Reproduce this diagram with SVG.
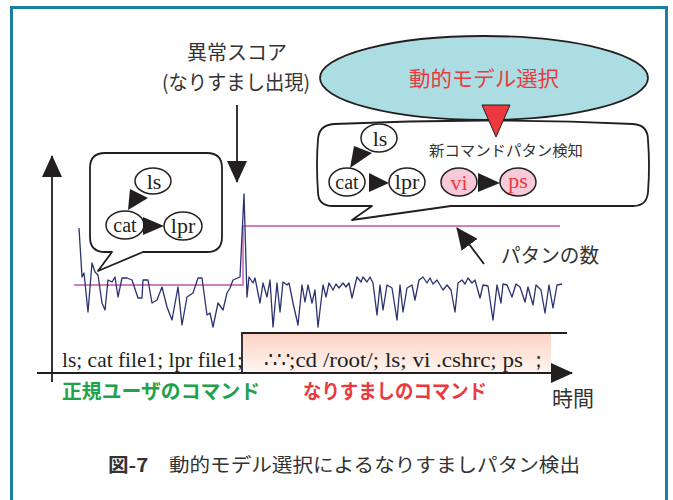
<svg xmlns="http://www.w3.org/2000/svg" width="673" height="500" viewBox="0 0 673 500">
<defs>
<marker id="ah" markerUnits="userSpaceOnUse" markerWidth="22" markerHeight="20" refX="21" refY="10" orient="auto" viewBox="0 0 22 20">
<path d="M0,0 L22,10 L0,20 Z" fill="#231f20"/>
</marker>
<linearGradient id="pinkgrad" x1="0" y1="0" x2="0" y2="1">
<stop offset="0" stop-color="#fbd2c3"/>
<stop offset="1" stop-color="#fff6f2"/>
</linearGradient>
<style>
.jp{font-family:"Noto Sans CJK JP","Noto Sans",sans-serif;}
.ser{font-family:"Liberation Serif","Times New Roman",serif;fill:#231f20;}
.node{fill:#ffffff;stroke:#231f20;stroke-width:1.5;}
.pnode{fill:#f7c9d9;stroke:#231f20;stroke-width:1.5;}
.bub{fill:#ffffff;stroke:#231f20;stroke-width:1.8;stroke-linejoin:round;}
.ln{stroke:#231f20;stroke-width:1.8;fill:none;}
.tri{fill:#231f20;}
</style>
</defs>
<rect id="frame" x="11.5" y="7.5" width="655" height="520" fill="#ffffff" stroke="#1a7fa0" stroke-width="3"/>

<g id="score-label">
<text class="jp" x="237" y="60" font-size="20" fill="#333" text-anchor="middle">異常スコア</text>
<text class="jp" x="236" y="90" font-size="20" fill="#333" text-anchor="middle" textLength="148" lengthAdjust="spacingAndGlyphs">(なりすまし出現)</text>
</g>

<g id="model-select">
<ellipse cx="484" cy="78" rx="164" ry="42" fill="#acdde2" stroke="#231f20" stroke-width="1.8"/>
<text class="jp" x="484" y="86" font-size="21" fill="#ea3a3f" text-anchor="middle" textLength="150" lengthAdjust="spacingAndGlyphs">動的モデル選択</text>
</g>

<g id="bubble-right">
<path class="bub" d="M334,124 Q484,117 633,124 Q648,125 648,140 Q650,166 648,192 Q647,206 633,206 L451,206 L352,220 L372,206 L333,206 Q318,206 318,192 Q316,165 318,139 Q319,125 334,124 Z"/>
<text class="jp" x="506" y="156" font-size="15" fill="#333" text-anchor="middle" textLength="154" lengthAdjust="spacingAndGlyphs">新コマンドパタン検知</text>
</g>
<g id="select-arrow">
<polygon points="482,105 510,105 496,137" fill="#ea3a3f" stroke="#231f20" stroke-width="1"/>
</g>
<g id="r-ls"><ellipse class="node" cx="379" cy="138" rx="18" ry="14"/><text class="ser" x="380" y="146" font-size="22" text-anchor="middle">ls</text></g>
<g id="r-cat"><ellipse class="node" cx="347" cy="182" rx="18" ry="14"/><text class="ser" x="347" y="189" font-size="20" text-anchor="middle">cat</text></g>
<g id="r-lpr"><ellipse class="node" cx="407" cy="182" rx="18" ry="14"/><text class="ser" x="407" y="189" font-size="22" text-anchor="middle">lpr</text></g>
<g id="r-vi"><ellipse class="pnode" cx="459" cy="182" rx="18" ry="14"/><text class="ser" x="459" y="190" font-size="22" text-anchor="middle" style="fill:#ea3a3f">vi</text></g>
<g id="r-ps"><ellipse class="pnode" cx="518" cy="182" rx="18" ry="14"/><text class="ser" x="518" y="188" font-size="22" text-anchor="middle" style="fill:#ea3a3f">ps</text></g>

<g id="bubble-left">
<path class="bub" d="M105,153 L207,153 Q222,153 222,168 L222,237 Q222,252 207,252 L143,252 L98,271 L112,252 L105,252 Q90,252 90,237 L90,168 Q90,153 105,153 Z"/>
</g>
<g id="l-ls"><ellipse class="node" cx="153" cy="181" rx="18" ry="13"/><text class="ser" x="154" y="189" font-size="22" text-anchor="middle">ls</text></g>
<g id="l-cat"><ellipse class="node" cx="125" cy="225" rx="19" ry="14"/><text class="ser" x="125" y="232" font-size="20" text-anchor="middle">cat</text></g>
<g id="l-lpr"><ellipse class="node" cx="183" cy="226" rx="19" ry="14"/><text class="ser" x="183" y="233" font-size="22" text-anchor="middle">lpr</text></g>

<g id="chart">
<polyline fill="none" stroke="#cf7fbe" stroke-width="1.8" points="74,285 243,285 243,226 560,226"/>
<polyline fill="none" stroke="#2b3270" stroke-width="1.3" stroke-linejoin="round" points="79,228 82,277 84,273 88,312 92,263 95,272 98,275 102,303 105,310 108,280 112,282 115,277 118,297 122,278 127,278 132,280 138,298 142,298 143,280 148,280 152,303 157,300 162,287 167,307 172,320 178,287 182,325 187,297 193,293 198,278 202,278 207,315 210,313 213,327 218,303 223,310 227,293 230,288 233,280 240,277 244,194 247,297 249,277 253,283 255,278 260,303 263,283 267,297 270,280 273,327 277,283 280,312 283,282 287,285 289,283 293,303 298,325 302,285 305,302 308,285 312,303 315,290 318,327 323,285 326,297 329,283 333,290 336,284 339,288 343,283 346,287 349,283 352,298 357,277 361,282 363,277 367,282 370,277 373,283 377,315 380,285 383,310 387,285 392,288 397,320 400,285 403,312 407,288 412,285 415,300 419,280 423,277 427,283 430,278 433,284 437,280 440,285 443,290 447,285 451,290 455,312 458,283 462,280 465,284 468,278 472,283 475,280 480,298 483,285 488,286 493,320 497,285 501,303 503,284 507,285 512,297 516,284 520,287 525,302 528,287 533,305 536,285 541,290 545,313 549,285 553,308 557,285 562,284"/>
<rect x="243" y="333" width="308" height="40" fill="url(#pinkgrad)"/>
<line class="ln" x1="242" y1="333" x2="567" y2="333"/>
<line class="ln" x1="242" y1="332" x2="242" y2="373"/>
<text class="ser" x="62" y="367" font-size="21" textLength="181" lengthAdjust="spacingAndGlyphs">ls; cat file1; lpr file1;</text>
<text class="ser" x="264" y="367" font-size="21">∴∵</text>
<text class="ser" x="289" y="367" font-size="21" textLength="234" lengthAdjust="spacingAndGlyphs">;cd /root/; ls; vi .cshrc; ps</text>
<text class="ser" x="528" y="367" font-size="21">；</text>
</g>

<g id="connectors">
<line class="ln" x1="52" y1="382" x2="52" y2="156" marker-end="url(#ah)"/>
<line class="ln" x1="37" y1="373" x2="572" y2="373" marker-end="url(#ah)"/>
<line class="ln" x1="237" y1="105" x2="237" y2="182" marker-end="url(#ah)"/>
<line class="ln" x1="484" y1="264" x2="457" y2="228" marker-end="url(#ah)"/>
<polygon class="tri" points="130,189 148,198 128,210"/>
<polygon class="tri" points="143,217 143,235 164,226"/>
<polygon class="tri" points="354,146 372,153 350,168"/>
<polygon class="tri" points="369,173 369,192 389,183"/>
<polygon class="tri" points="478,173 478,192 500,183"/>
</g>

<g id="labels">
<text class="jp" x="501" y="263" font-size="20" fill="#333" textLength="98" lengthAdjust="spacingAndGlyphs">パタンの数</text>
<text class="jp" x="62" y="399" font-size="20" font-weight="bold" fill="#1fa24a" textLength="198" lengthAdjust="spacingAndGlyphs">正規ユーザのコマンド</text>
<text class="jp" x="303" y="399" font-size="20" font-weight="bold" fill="#ea3a3f" textLength="184" lengthAdjust="spacingAndGlyphs">なりすましのコマンド</text>
<text class="jp" x="552" y="406" font-size="21" fill="#333">時間</text>
</g>

<g id="caption">
<text class="jp" x="108" y="472" font-size="19" fill="#333" textLength="472" lengthAdjust="spacingAndGlyphs"><tspan font-weight="bold">図-7</tspan>　動的モデル選択によるなりすましパタン検出</text>
</g>
</svg>
